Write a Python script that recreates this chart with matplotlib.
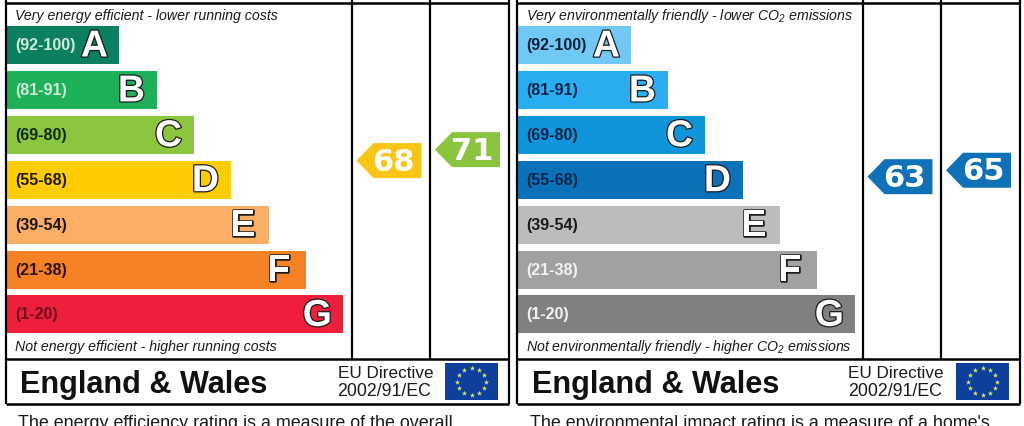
#!/usr/bin/env python3
"""energy rating chart, two panels side by side"""
import numpy as np
import matplotlib
matplotlib.use("Agg")
import matplotlib.pyplot as plt
import matplotlib.patheffects as pe
from matplotlib.patches import Polygon, Rectangle

plt.rcParams['font.family'] = ['Liberation Sans', 'DejaVu Sans']
plt.rcParams['mathtext.default'] = 'regular'

# data
band_letters = ['A', 'B', 'C', 'D', 'E', 'F', 'G']
band_ranges = ['(92-100)', '(81-91)', '(69-80)', '(55-68)', '(39-54)', '(21-38)', '(1-20)']
band_low = [92, 81, 69, 55, 39, 21, 1]
left_lengths = [113, 151, 188, 225, 263, 300, 337]
right_lengths = [114, 151, 188, 226, 263, 300, 338]
left_colors = ['#0a8060', '#1eb15a', '#8cc63f', '#ffcc00', '#fbae65', '#f68226', '#ee1f3d']
right_colors = ['#70c9f5', '#2aaef2', '#0f95d9', '#0b72ba', '#bcbcbc', '#a1a1a1', '#808080']
left_label_colors = ['#cdeadb', '#cdeadb', '#10280c', '#221a00', '#1c1206', '#2a1205', '#6e0f1c']
right_label_colors = ['#10203a', '#0c2448', '#0c2448', '#0c2448', '#1a1a1a', '#f2f2f2', '#f2f2f2']
left_scores = [68, 71]
right_scores = [63, 65]
left_score_colors = ['#f9c616', '#8bc53f']
right_score_colors = ['#0f72b8', '#0f72b8']

# gap between letter and bar end, not the same for every letter
letter_inset = [11, 12, 12, 12, 14, 16, 11]


def score_to_y(score):
    # score scale follows the rating bands, each band is 45 px high
    edges = np.array(band_low[::-1]) - 0.5
    edge_y = 339.5 - 45.0 * np.arange(7)
    return np.interp(score, edges, edge_y) - 0.5


def draw_panel(ax, x0, lengths, colors, label_colors, scores, score_colors, top_text, bottom_text, body_text):
    x_c1, x_c2, x_end = x0 + 346, x0 + 424.5, x0 + 503
    ypos = 45 + 44.9 * np.arange(7)
    ax.barh(ypos, lengths, height=38, left=x0 + 0.5, color=colors, linewidth=0, zorder=2)

    for i, letter in enumerate(band_letters):
        bar_end = x0 + 0.5 + lengths[i]
        ax.text(x0 + 10, ypos[i] + 0.5, band_ranges[i], fontsize=11.6, fontweight='bold',
                color=label_colors[i], ha='left', va='center', zorder=3)
        ax.text(bar_end - letter_inset[i], ypos[i] + 1.5, letter, fontsize=27, fontweight='bold', color='white',
                ha='right', va='center', zorder=3,
                path_effects=[pe.withStroke(linewidth=1.8, foreground='#1c1c1c')])

    # frame
    for x in [x_c1, x_c2]:
        ax.plot([x, x], [0, 358.5], color='black', lw=1.6, zorder=4, solid_capstyle='butt')
    for x in [x0, x_end]:
        ax.plot([x, x], [0, 404], color='black', lw=1.6, zorder=4, solid_capstyle='butt')
    for y in [3, 358.5, 403.5]:
        ax.plot([x0, x_end], [y, y], color='black', lw=1.8, zorder=4, solid_capstyle='butt')

    ax.text(x0 + 9.5, 16, top_text, fontsize=10.15, style='italic', color='#1a1a1a', va='center', ha='left')
    ax.text(x0 + 9.5, 346.5, bottom_text, fontsize=10.15, style='italic', color='#1a1a1a', va='center', ha='left')

    # score arrows
    columns = [x_c1, x_c2]
    for k, score in enumerate(scores):
        yc = score_to_y(score)
        xl = columns[k] + 5
        xr = xl + 65
        ax.add_patch(Polygon([(xl, yc), (xl + 17, yc - 17.5), (xr, yc - 17.5), (xr, yc + 17.5), (xl + 17, yc + 17.5)],
                             closed=True, facecolor=score_colors[k], edgecolor='none', zorder=3))
        ax.text(xl + 37, yc + 1.5, str(score), fontsize=22, fontweight='bold', family='DejaVu Sans',
                color='white', ha='center', va='center', zorder=5)

    # footer
    ax.text(x0 + 15, 385, 'England & Wales', fontsize=22.1, fontweight='bold', color='#111111',
            ha='left', va='center')
    ax.text(x0 + 332, 373, 'EU Directive', fontsize=12.3, color='#1a1a1a', ha='left', va='center')
    ax.text(x0 + 332, 391.5, '2002/91/EC', fontsize=12.8, color='#1a1a1a', ha='left', va='center')

    ax.add_patch(Rectangle((x0 + 439.5, 363), 53, 37, facecolor='#0f3f9c', edgecolor='none', zorder=3))
    angles = np.deg2rad(np.arange(0, 360, 30))
    ax.scatter(x0 + 466 + 14.5 * np.cos(angles), 381.5 + 13.5 * np.sin(angles), marker='*', s=16,
               color='#d6e86a', linewidths=0, zorder=4)

    ax.text(x0 + 13, 428.5, body_text, fontsize=12.9, color='#1a1a1a', ha='left', va='baseline', clip_on=True)


fig = plt.figure(figsize=(10.24, 4.26), dpi=100)
ax = fig.add_axes([0, 0, 1, 1])
ax.set_xlim(0, 1024)
ax.set_ylim(426, 0)
ax.axis('off')

draw_panel(ax, 5.5, left_lengths, left_colors, left_label_colors, left_scores, left_score_colors,
           'Very energy efficient - lower running costs',
           'Not energy efficient - higher running costs',
           'The energy efficiency rating is a measure of the overall')
draw_panel(ax, 516.5, right_lengths, right_colors, right_label_colors, right_scores, right_score_colors,
           'Very environmentally friendly - lower CO$_2$ emissions',
           'Not environmentally friendly - higher CO$_2$ emissions',
           "The environmental impact rating is a measure of a home's")

fig.savefig('out.png', dpi=100)
plt.close(fig)
